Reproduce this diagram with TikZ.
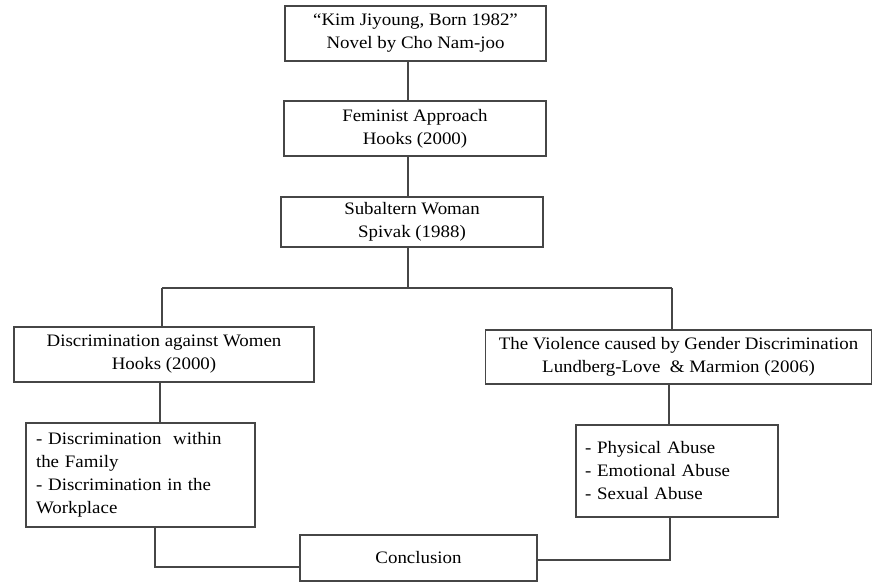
\documentclass[tikz,border=0pt]{standalone}
\usepackage{fontspec}
\setmainfont[FakeStretch=1.08]{Liberation Serif}
\definecolor{linegray}{RGB}{70,70,70}
\tikzset{
  box/.style={draw=linegray, line width=1.1pt, rectangle, align=center,
    inner sep=0pt, font=\fontsize{17.5}{23}\selectfont},
  listbox/.style={box, align=left},
  link/.style={draw=linegray, line width=1.1pt}
}
\begin{document}
\begin{tikzpicture}[x=1pt,y=-1pt]
\useasboundingbox (0,0) rectangle (873,582);
% the novel and the two theories, stacked on one trunk
\node[box, minimum width=261pt, minimum height=55pt] (novel) at (415.5,33.5)
  {``Kim Jiyoung, Born 1982''\\Novel by Cho Nam-joo};
\node[box, minimum width=262pt, minimum height=55pt] (feminist) at (415,128.5)
  {Feminist Approach\\Hooks (2000)};
\node[box, minimum width=262pt, minimum height=50pt] (subaltern) at (412,222)
  {Subaltern Woman\\Spivak (1988)};
% the two branches
\node[box, minimum width=300pt, minimum height=55pt] (discrim) at (164,354.5)
  {Discrimination against Women\\Hooks (2000)};
\node[box, minimum width=386pt, minimum height=54pt] (violence) at (678.5,357)
  {The Violence caused by Gender Discrimination\\Lundberg-Love\ \ \& Marmion (2006)};
\node[listbox, text width=209pt, minimum height=104pt, inner xsep=10pt] (family) at (140.5,475)
  {- Discrimination\ \ within\\the Family\\- Discrimination in the\\Workplace};
\node[listbox, text width=184pt, minimum height=92pt, inner xsep=9pt] (abuse) at (677,471)
  {- Physical Abuse\\- Emotional Abuse\\- Sexual Abuse};
\node[box, minimum width=237pt, minimum height=46pt] (conclusion) at (418.5,558)
  {Conclusion};
% points where the connectors turn
\coordinate (trunk) at (408,288);
\coordinate (leftx) at (162,288);
\coordinate (rightx) at (672,288);
\coordinate (downleft) at (160,0);
\coordinate (downright) at (669,0);
\coordinate (joinleft) at (155,567);
\coordinate (joinright) at (670,560);
\draw[link] (novel.south -| trunk) -- (feminist.north -| trunk);
\draw[link] (feminist.south -| trunk) -- (subaltern.north -| trunk);
\draw[link] (subaltern.south -| trunk) -- (trunk);
\draw[link] (leftx) -- (rightx);
\draw[link] (leftx) -- (leftx |- discrim.north);
\draw[link] (rightx) -- (rightx |- violence.north);
\draw[link] (discrim.south -| downleft) -- (family.north -| downleft);
\draw[link] (violence.south -| downright) -- (abuse.north -| downright);
\draw[link] (family.south -| joinleft) -- (joinleft) -- (joinleft -| conclusion.west);
\draw[link] (abuse.south -| joinright) -- (joinright) -- (joinright -| conclusion.east);
\end{tikzpicture}
\end{document}
